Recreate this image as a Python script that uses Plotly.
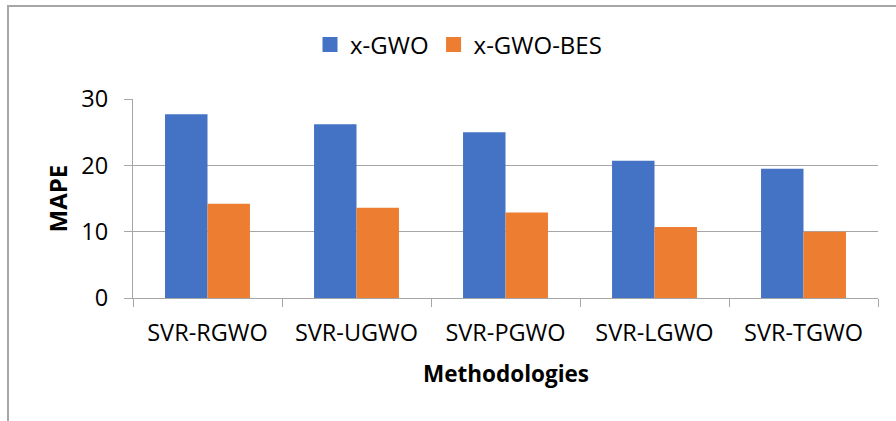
import plotly.graph_objects as go

categories = ["SVR-RGWO", "SVR-UGWO", "SVR-PGWO", "SVR-LGWO", "SVR-TGWO"]
x_gwo = [27.7, 26.2, 25.0, 20.7, 19.5]
x_gwo_bes = [14.2, 13.6, 12.9, 10.7, 10.0]
series_names = ["x-GWO", "x-GWO-BES"]
colors = ["#4472C4", "#ED7D31"]
y_ticks = [0, 10, 20, 30]

FONT = "Open Sans"
W, H = 896, 421
L, R, T, B = 133, 18, 99, 123
pw, ph = W - L - R, H - T - B

def px(x):
    return (x - L) / pw

def py(y):
    return (H - B - y) / ph

fig = go.Figure()
for name, vals, col in zip(series_names, [x_gwo, x_gwo_bes], colors):
    fig.add_trace(go.Bar(x=categories, y=vals, name=name, marker=dict(color=col, line=dict(width=0)),
                         showlegend=False))
for name, col in zip(series_names, colors):
    fig.add_trace(go.Scatter(x=[None], y=[None], mode="markers", name=name,
                             marker=dict(symbol="square", size=15, color=col)))

grid = "#A6A6A6"
fig.update_layout(
    width=W, height=H,
    margin=dict(l=L, r=R, t=T, b=B),
    paper_bgcolor="white", plot_bgcolor="white",
    barmode="group", bargap=0.43, bargroupgap=0,
    font=dict(family=FONT, size=23, color="#000000"),
    legend=dict(orientation="h", x=px(310), y=py(45), xanchor="left", yanchor="middle",
                font=dict(family=FONT, size=24, color="#000"), itemwidth=30,
                bgcolor="rgba(0,0,0,0)"),
    xaxis=dict(showline=True, linecolor=grid, linewidth=1.3, ticks="outside", tickson="boundaries",
               ticklen=8, tickcolor=grid, tickwidth=1.3, showgrid=False,
               tickfont=dict(family=FONT, size=23.5, color="#000"), ticklabelstandoff=14),
    yaxis=dict(range=[0, 30], tickvals=y_ticks, showline=True, linecolor=grid, linewidth=1.3,
               ticks="outside", ticklen=8, tickcolor=grid, tickwidth=1.3,
               showgrid=True, gridcolor=grid, gridwidth=1.3, zeroline=False,
               tickfont=dict(family=FONT, size=23.5, color="#000"), ticklabelstandoff=11),
    annotations=[
        dict(text="<b>MAPE</b>", x=px(57), y=0.5, xref="paper", yref="paper", textangle=-90,
             showarrow=False, xanchor="center", yanchor="middle",
             font=dict(family=FONT, size=24, color="#000")),
        dict(text="<b>Methodologies</b>", x=0.5, y=py(373), xref="paper", yref="paper",
             showarrow=False, xanchor="center", yanchor="middle",
             font=dict(family=FONT, size=22.5, color="#000")),
    ],
    shapes=[
        dict(type="line", xref="paper", yref="paper", x0=px(7), x1=px(W), y0=py(6), y1=py(6),
             line=dict(color="#A6A6A6", width=2)),
        dict(type="line", xref="paper", yref="paper", x0=px(8), x1=px(8), y0=py(5), y1=py(H),
             line=dict(color="#A6A6A6", width=2)),
    ],
)

fig.write_html("out.html", config={"displayModeBar": False},
               post_script="document.body.style.margin='0';")
